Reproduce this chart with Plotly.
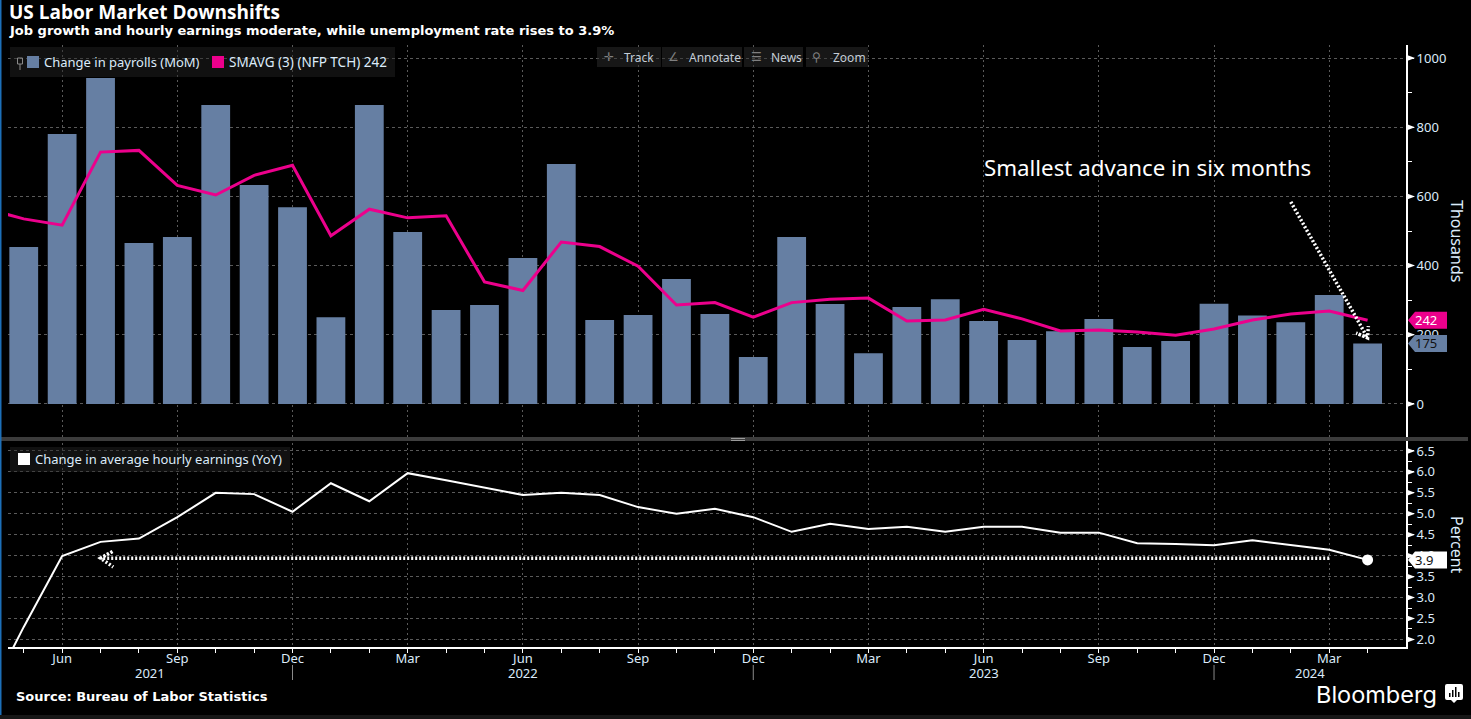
import plotly.graph_objects as go
from plotly.subplots import make_subplots

months = ['May 21', 'Jun 21', 'Jul 21', 'Aug 21', 'Sep 21', 'Oct 21', 'Nov 21', 'Dec 21',
          'Jan 22', 'Feb 22', 'Mar 22', 'Apr 22', 'May 22', 'Jun 22', 'Jul 22', 'Aug 22', 'Sep 22', 'Oct 22', 'Nov 22', 'Dec 22',
          'Jan 23', 'Feb 23', 'Mar 23', 'Apr 23', 'May 23', 'Jun 23', 'Jul 23', 'Aug 23', 'Sep 23', 'Oct 23', 'Nov 23', 'Dec 23',
          'Jan 24', 'Feb 24', 'Mar 24', 'Apr 24']

payrolls = [454, 780, 942, 465, 483, 864, 633, 569,
            251, 864, 497, 272, 286, 422, 694, 243, 257, 361, 260, 136,
            483, 289, 147, 280, 303, 240, 185, 210, 246, 165, 182, 290,
            256, 236, 315, 175]

smavg = [535, 517, 728, 733, 632, 604, 661, 690,
         486, 563, 538, 544, 353, 328, 468, 455, 398, 286, 293, 251,
         293, 303, 306, 240, 243, 274, 246, 211, 214, 208, 199, 217,
         243, 260, 269, 242]

earnings = [2.3, 3.99, 4.33, 4.41, 4.92, 5.5, 5.47, 5.05,
            5.73, 5.3, 5.97, 5.8, 5.62, 5.45, 5.5, 5.45, 5.16, 5.0, 5.12, 4.92,
            4.57, 4.76, 4.64, 4.69, 4.57, 4.69, 4.69, 4.55, 4.55, 4.3, 4.28, 4.25,
            4.37, 4.25, 4.14, 3.9]

# value of each line one month before the first bar, only the part inside the frame shows
smavg_before = 565
earnings_before = 0.5

tick_labels = ['Jun', 'Sep', 'Dec', 'Mar', 'Jun', 'Sep', 'Dec', 'Mar', 'Jun', 'Sep', 'Dec', 'Mar']
year_labels = ['2021', '2022', '2023', '2024']
year_positions = [3.3, 13, 25, 33.5]
year_dividers = [7, 19, 31]

top_ticks = [0, 200, 400, 600, 800, 1000]
top_minor = [100, 300, 500, 700, 900]
low_ticks = [2.0, 2.5, 3.0, 3.5, 4.0, 4.5, 5.0, 5.5, 6.0, 6.5]
low_minor = [2.25, 2.75, 3.25, 3.75, 4.25, 4.75, 5.25, 5.75, 6.25]

# dotted callout arrows, month index / value
arrow_top_x = [33.0, 35.0, 34.7, 35.0, 35.02]
arrow_top_y = [584, 191, 205, 191, 225]
arrow_low_x = [34, 2, 2.33, 2, 2.33]
arrow_low_y = [3.94, 3.94, 4.11, 3.94, 3.73]

BG = 'black'
BAR = '#667FA3'
PINK = '#EC008C'
TICK = '#DCEBFA'
GRID = '#5A5A5A'

W, H = 1471, 719
L, R, T, B = 8, 1406, 45, 647


def px(x):
    return (x - L) / (R - L)


def py(y):
    return (B - y) / (B - T)


idx = list(range(len(months)))
xmax = 36.0

fig = make_subplots(rows=2, cols=1, shared_xaxes=True, vertical_spacing=0,
                    row_heights=[393 / 602, 209 / 602])

fig.add_trace(go.Bar(x=idx, y=payrolls, width=0.75, marker=dict(color=BAR, line_width=0),
                     name='Change in payrolls (MoM)', customdata=months), row=1, col=1)
fig.add_trace(go.Scatter(x=[-1] + idx, y=[smavg_before] + smavg, mode='lines',
                         line=dict(color=PINK, width=3), name='SMAVG (3) (NFP TCH)'), row=1, col=1)
fig.add_trace(go.Scatter(x=arrow_top_x, y=arrow_top_y, mode='lines',
                         line=dict(color='white', width=3.5, dash='2px 2px')), row=1, col=1)

fig.add_trace(go.Scatter(x=[-1] + idx, y=[earnings_before] + earnings, mode='lines',
                         line=dict(color='white', width=2), name='Change in average hourly earnings (YoY)'), row=2, col=1)
fig.add_trace(go.Scatter(x=[idx[-1]], y=[earnings[-1]], mode='markers',
                         marker=dict(color='white', size=11)), row=2, col=1)
fig.add_trace(go.Scatter(x=arrow_low_x, y=arrow_low_y, mode='lines',
                         line=dict(color='white', width=3.5, dash='2px 2px')), row=2, col=1)

tick_font = dict(family='Noto Sans', size=13, color=TICK)

fig.update_xaxes(range=[-0.41, xmax], tickmode='array', tickvals=[1 + 3 * i for i in range(12)],
                 showgrid=True, gridcolor=GRID, griddash='2px 3px', gridwidth=1, zeroline=False,
                 showticklabels=False, ticks='', showline=False)
fig.update_xaxes(row=2, col=1, ticktext=tick_labels, showticklabels=True, tickfont=tick_font,
                 showline=True, linecolor='white', linewidth=2, ticks='outside', ticklen=4,
                 tickcolor='white', ticklabelstandoff=-6,
                 minor=dict(tickmode='array', tickvals=[i for i in idx if (i - 1) % 3 != 0],
                            ticks='outside', ticklen=4, tickcolor='white', showgrid=False))

fig.update_yaxes(side='right', showline=True, linecolor='white', linewidth=2, zeroline=False, showgrid=True,
                 gridcolor=GRID, griddash='3px 3px', gridwidth=1, tickfont=tick_font,
                 ticks='outside', tickcolor='white', ticklen=6)
fig.update_yaxes(row=1, col=1, range=[-98.3, 1037.6], tickmode='array', tickvals=top_ticks,
                 minor=dict(tickmode='array', tickvals=top_minor, ticks='outside', ticklen=4,
                            tickcolor='white', showgrid=False))
fig.update_yaxes(row=2, col=1, range=[1.82, 6.81], tickmode='array', tickvals=low_ticks,
                 ticktext=['%.1f' % v for v in low_ticks],
                 minor=dict(tickmode='array', tickvals=low_minor, ticks='outside', ticklen=4,
                            tickcolor='white', showgrid=False))

shapes = []


def paper_rect(x0, y0, x1, y1, fill, layer='above'):
    shapes.append(dict(type='rect', xref='paper', yref='paper', x0=px(x0), x1=px(x1), y0=py(y0), y1=py(y1),
                       fillcolor=fill, line_width=0, layer=layer))


def pinned(yref, value, path, fill):
    # drawn in pixels from the right axis at this value
    shapes.append(dict(type='path', xref='paper', yref=yref, xsizemode='pixel', ysizemode='pixel',
                       xanchor=1, yanchor=value, path=path, fillcolor=fill, line_width=0, layer='above'))


# little arrows on the value axis
for v in top_ticks:
    pinned('y', v, 'M 1 3 L 9 0 L 1 -3 Z', 'white')
for v in low_ticks:
    pinned('y2', v, 'M 1 3 L 9 0 L 1 -3 Z', 'white')

# value tags hanging off the axis
tag_path = 'M 2 0 L 9 8.5 L 41 8.5 L 41 -8.5 L 9 -8.5 Z'
pinned('y', smavg[-1], tag_path, PINK)
pinned('y', payrolls[-1], tag_path, BAR)
pinned('y2', earnings[-1], tag_path, 'white')

# year dividers under the axis
for d in year_dividers:
    shapes.append(dict(type='line', xref='x2', yref='paper', x0=d, x1=d, y0=py(665), y1=py(680),
                       line=dict(color='#8A8A8A', width=1)))

# pane separator and frame
paper_rect(0, 437, 1468, 441, '#3C3C3C')
paper_rect(731, 438, 745, 439, '#9A9A9A')
paper_rect(731, 440, 745, 441, '#9A9A9A')
paper_rect(0, 0, 1.5, H, '#1C6FB8')
paper_rect(0, 715, W, H, '#161616')

# legend and toolbar boxes
paper_rect(10, 47, 395, 77, 'rgba(38,38,38,0.45)')
paper_rect(27, 56, 39, 68, BAR)
paper_rect(212, 56, 224, 68, PINK)
paper_rect(10, 447, 290, 472, 'rgba(38,38,38,0.45)')
paper_rect(18, 453, 30, 465, 'white')
for x0, x1 in [(597, 661), (662, 742), (744, 803), (806, 868)]:
    paper_rect(x0, 47, x1, 67, 'rgba(45,45,45,0.5)')

# pin icon in the legend
shapes.append(dict(type='rect', xref='paper', yref='paper', x0=px(17.5), x1=px(22.5), y0=py(58), y1=py(64),
                   fillcolor='rgba(0,0,0,0)', line=dict(color='#8A8A8A', width=1)))
shapes.append(dict(type='line', xref='paper', yref='paper', x0=px(20), x1=px(20), y0=py(64), y1=py(70),
                   line=dict(color='#8A8A8A', width=1)))

# Bloomberg mark
shapes.append(dict(type='path', xref='paper', yref='paper', layer='above', fillcolor='white', line_width=0,
                   path=f'M {px(1447)} {py(684)} L {px(1461)} {py(684)} Q {px(1463)} {py(684)} {px(1463)} {py(686)} '
                        f'L {px(1463)} {py(698)} Q {px(1463)} {py(700)} {px(1461)} {py(700)} L {px(1457)} {py(700)} '
                        f'L {px(1454)} {py(703)} L {px(1451)} {py(700)} L {px(1447)} {py(700)} '
                        f'Q {px(1445)} {py(700)} {px(1445)} {py(698)} L {px(1445)} {py(686)} '
                        f'Q {px(1445)} {py(684)} {px(1447)} {py(684)} Z'))
for x0, y0 in [(1449, 693), (1452, 690), (1455, 687), (1458, 692)]:
    paper_rect(x0, y0, x0 + 1.5, 697, BG)

annotations = []


def label(x, y, text, size, color='white', family='Noto Sans', anchor='left', angle=0):
    annotations.append(dict(xref='paper', yref='paper', x=px(x), y=py(y), text=text, showarrow=False,
                            xanchor=anchor, yanchor='middle', textangle=angle, borderpad=0,
                            font=dict(family=family, size=size, color=color)))


label(8, 12, '<b>US Labor Market Downshifts</b>', 19, family='Open Sans')
label(8, 31, '<b>Job growth and hourly earnings moderate, while unemployment rate rises to 3.9%</b>', 13,
      family='DejaVu Sans')
label(15, 696, '<b>Source: Bureau of Labor Statistics</b>', 13, family='DejaVu Sans')
label(1315, 694, 'Bloomberg', 23.5, family='Inter')

label(43, 62, 'Change in payrolls (MoM)', 13, color=TICK)
label(228, 62, 'SMAVG (3) (NFP TCH) 242', 13.5, color=TICK)
label(34, 459, 'Change in average hourly earnings (YoY)', 13, color=TICK)
for x, text in [(623, 'Track'), (688, 'Annotate'), (770, 'News'), (832, 'Zoom')]:
    label(x, 57, text, 12, color='#C4CDD6')
for x, text in [(603, '\u271b'), (667, '\u2220'), (750, '\u2630'), (811, '\u26b2')]:
    label(x, 57, text, 12, color='#808080', family='DejaVu Sans')

label(983, 168, 'Smallest advance in six months', 22.3, family='Noto Sans')
label(1457, 241, 'Thousands', 16, color=TICK, anchor='center', angle=90)
label(1457, 545, 'Percent', 16, color=TICK, anchor='center', angle=90)

for text, value, color, yref in [(str(smavg[-1]), smavg[-1], 'white', 'y'),
                                 (str(payrolls[-1]), payrolls[-1], '#111111', 'y'),
                                 ('%.1f' % earnings[-1], earnings[-1], '#111111', 'y2')]:
    annotations.append(dict(xref='x', yref=yref, x=xmax, y=value, text=text, showarrow=False, xanchor='left',
                            yanchor='middle', xshift=7, font=dict(family='Noto Sans', size=13, color=color)))

for text, pos in zip(year_labels, year_positions):
    annotations.append(dict(xref='x2', yref='paper', x=pos, y=py(673), text=text, showarrow=False,
                            xanchor='center', yanchor='middle', font=tick_font))

fig.update_layout(width=W, height=H, margin=dict(l=L, r=W - R, t=T, b=H - B), paper_bgcolor=BG, plot_bgcolor=BG,
                  showlegend=False, barmode='overlay', shapes=shapes, annotations=annotations,
                  hovermode=False)

fig.write_html("out.html", post_script="document.body.style.margin='0';document.body.style.background='black';",
               config=dict(displayModeBar=False))
